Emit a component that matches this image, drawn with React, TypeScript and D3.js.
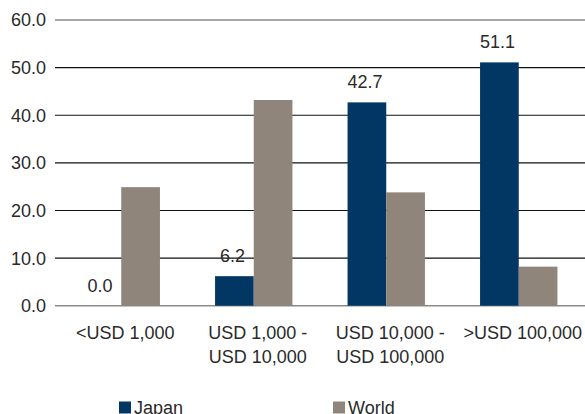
import React from "react";
import * as d3 from "d3";

const categories = [["<USD 1,000"], ["USD 1,000 -", "USD 10,000"], ["USD 10,000 -", "USD 100,000"], [">USD 100,000"]];
const seriesNames = ["Japan", "World"];
const japan = [0.0, 6.2, 42.7, 51.1];
const world = [24.9, 43.2, 23.8, 8.2];
const yTicks = [0, 10, 20, 30, 40, 50, 60];
const colors = ["#023764", "#8f857b"];

const W = 585, H = 414;
const FONT = "'Liberation Sans', Arial, sans-serif";

export default function App() {
  const y = d3.scaleLinear().domain([0, 60]).range([305.7, 20]);
  const x0 = d3.scaleBand<number>().domain(d3.range(categories.length)).range([55, 585]).padding(0);
  const bw = x0.bandwidth() * 0.292;
  const series = [japan, world];
  return (
    <svg width={W} height={H} style={{ position: "absolute", left: 0, top: 0, background: "#fff" }} fontFamily={FONT}>
      {yTicks.map((t) => (
        <g key={t}>
          <line x1={55} x2={585} y1={y(t)} y2={y(t)}
            stroke={t === 0 || t === 60 ? "#8a8a8a" : "#111"} strokeWidth={t === 0 || t === 60 ? 1.6 : 1.1} />
          <text x={46} y={y(t)} dy="0.36em" textAnchor="end" fontSize={18} fill="#2a2a2a">{t.toFixed(1)}</text>
        </g>
      ))}
      {categories.map((c, i) => {
        const cx = (x0(i) as number) + x0.bandwidth() / 2;
        return (
          <g key={i}>
            {series.map((s, k) => {
              const xs = cx + (k === 0 ? -bw : 0);
              const v = s[i];
              return (
                <g key={k}>
                  {v > 0 && <rect x={xs} y={y(v)} width={bw} height={y(0) - y(v)} fill={colors[k]} />}
                  {k === 0 && (
                    <text x={xs + bw / 2 - 2} y={y(v) - 14} textAnchor="middle" fontSize={18} fill="#2a2a2a">{v.toFixed(1)}</text>
                  )}
                </g>
              );
            })}
            {c.map((line, j) => (
              <text key={j} x={cx + 4} y={339 + j * 23.5} textAnchor="middle" fontSize={18} fill="#2a2a2a">{line}</text>
            ))}
          </g>
        );
      })}
      {seriesNames.map((n, k) => {
        const lx = k === 0 ? 119 : 333;
        return (
          <g key={n}>
            <rect x={lx} y={401.5} width={12} height={12} fill={colors[k]} />
            <text x={lx + 15} y={413.5} fontSize={18} fill="#2a2a2a">{n}</text>
          </g>
        );
      })}
    </svg>
  );
}
